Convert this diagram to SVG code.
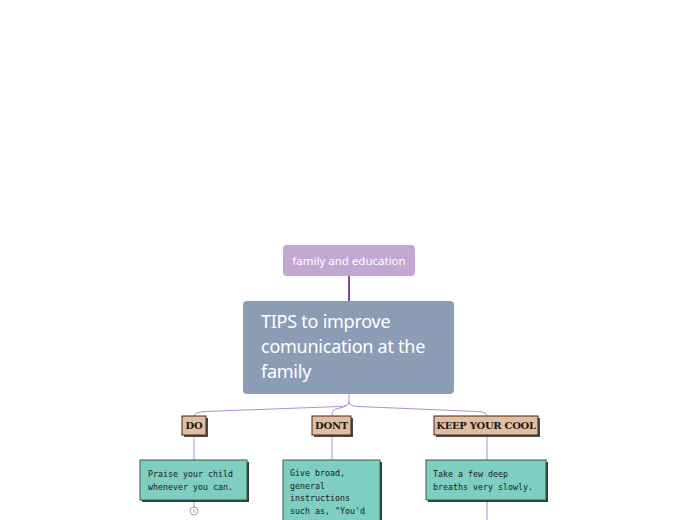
<svg xmlns="http://www.w3.org/2000/svg" width="696" height="520" viewBox="0 0 696 520">
<style>
.lbl{font-family:"Noto Sans","DejaVu Sans",sans-serif;fill:#ffffff}
.tag{fill:#e2bd9f;stroke:#3a2a20;stroke-width:1}
.tagsh{fill:#4a4a4a}
.tagtx{font-family:"DejaVu Serif","Liberation Serif",serif;font-weight:bold;font-size:10px;fill:#1a1a1a;text-anchor:middle;letter-spacing:-0.3px}
.note{fill:#7ecec1;stroke:#3b5a55;stroke-width:1}
.notesh{fill:#2d3a38}
.notetx{font-family:"DejaVu Sans Mono","Liberation Mono",monospace;font-size:8.3px;fill:#1b1b1b}
.conn{fill:none;stroke:#b48fcf;stroke-width:1}
</style>
<g id="connectors">
<line x1="349" y1="276" x2="349" y2="301" stroke="#7a4aa0" stroke-width="2"/>
<path class="conn" d="M349 394 V402 Q349 406 340 406.5 L205 411.5 Q195 412 194 416"/>
<path class="conn" d="M349 402 Q349 406 340 408 L336 409 Q332 410 332 416"/>
<path class="conn" d="M349 402 Q349 406 358 406.5 L478 411.5 Q487 412 487 416"/>
<line class="conn" x1="194" y1="435" x2="194" y2="460"/>
<line class="conn" x1="332" y1="435" x2="332" y2="460"/>
<line class="conn" x1="487" y1="435" x2="487" y2="460"/>
<line class="conn" x1="194" y1="500" x2="194" y2="507"/>
<line class="conn" x1="487" y1="500" x2="487" y2="520"/>
</g>
<g id="family-education">
<rect x="283" y="245" width="132" height="31" rx="4" fill="#c2a7d3"/>
<text class="lbl" x="349" y="265" font-size="11.5" text-anchor="middle">family and education</text>
</g>
<g id="tips">
<rect x="243" y="301" width="211" height="93" rx="4" fill="#8b9db4"/>
<text class="lbl" font-size="18" letter-spacing="-0.25" x="261" y="328">TIPS to improve</text>
<text class="lbl" font-size="18" letter-spacing="-0.25" x="261" y="353">comunication at the</text>
<text class="lbl" font-size="18" letter-spacing="-0.25" x="261" y="378">family</text>
</g>
<g id="do">
<rect class="tagsh" x="184" y="418" width="24" height="19"/>
<rect class="tag" x="182" y="416" width="24" height="19"/>
<text class="tagtx" x="194" y="429">DO</text>
</g>
<g id="dont">
<rect class="tagsh" x="314" y="418" width="39" height="19"/>
<rect class="tag" x="312" y="416" width="39" height="19"/>
<text class="tagtx" x="331.5" y="429">DONT</text>
</g>
<g id="keep-your-cool">
<rect class="tagsh" x="436" y="418" width="104" height="19"/>
<rect class="tag" x="434" y="416" width="104" height="19"/>
<text class="tagtx" x="486" y="429">KEEP YOUR COOL</text>
</g>
<g id="praise">
<rect class="notesh" x="142" y="462" width="107" height="40"/>
<rect class="note" x="140" y="460" width="107" height="40"/>
<text class="notetx" x="148" y="477">Praise your child</text>
<text class="notetx" x="148" y="490">whenever you can.</text>
</g>
<g id="praise-collapse">
<circle cx="194" cy="511" r="4" fill="#ffffff" stroke="#b48fcf" stroke-width="1"/>
<text x="194" y="513" font-family="DejaVu Sans, sans-serif" font-size="5" fill="#b48fcf" text-anchor="middle">6</text>
</g>
<g id="give-broad">
<rect class="notesh" x="285" y="462" width="97" height="60"/>
<rect class="note" x="283" y="460" width="97" height="62"/>
<text class="notetx" x="290" y="476">Give broad,</text>
<text class="notetx" x="290" y="488.5">general</text>
<text class="notetx" x="290" y="501">instructions</text>
<text class="notetx" x="290" y="513.5">such as, "You'd</text>
</g>
<g id="take-breaths">
<rect class="notesh" x="428" y="462" width="120" height="40"/>
<rect class="note" x="426" y="460" width="120" height="40"/>
<text class="notetx" x="433" y="477">Take a few deep</text>
<text class="notetx" x="433" y="490">breaths very slowly.</text>
</g>
</svg>
